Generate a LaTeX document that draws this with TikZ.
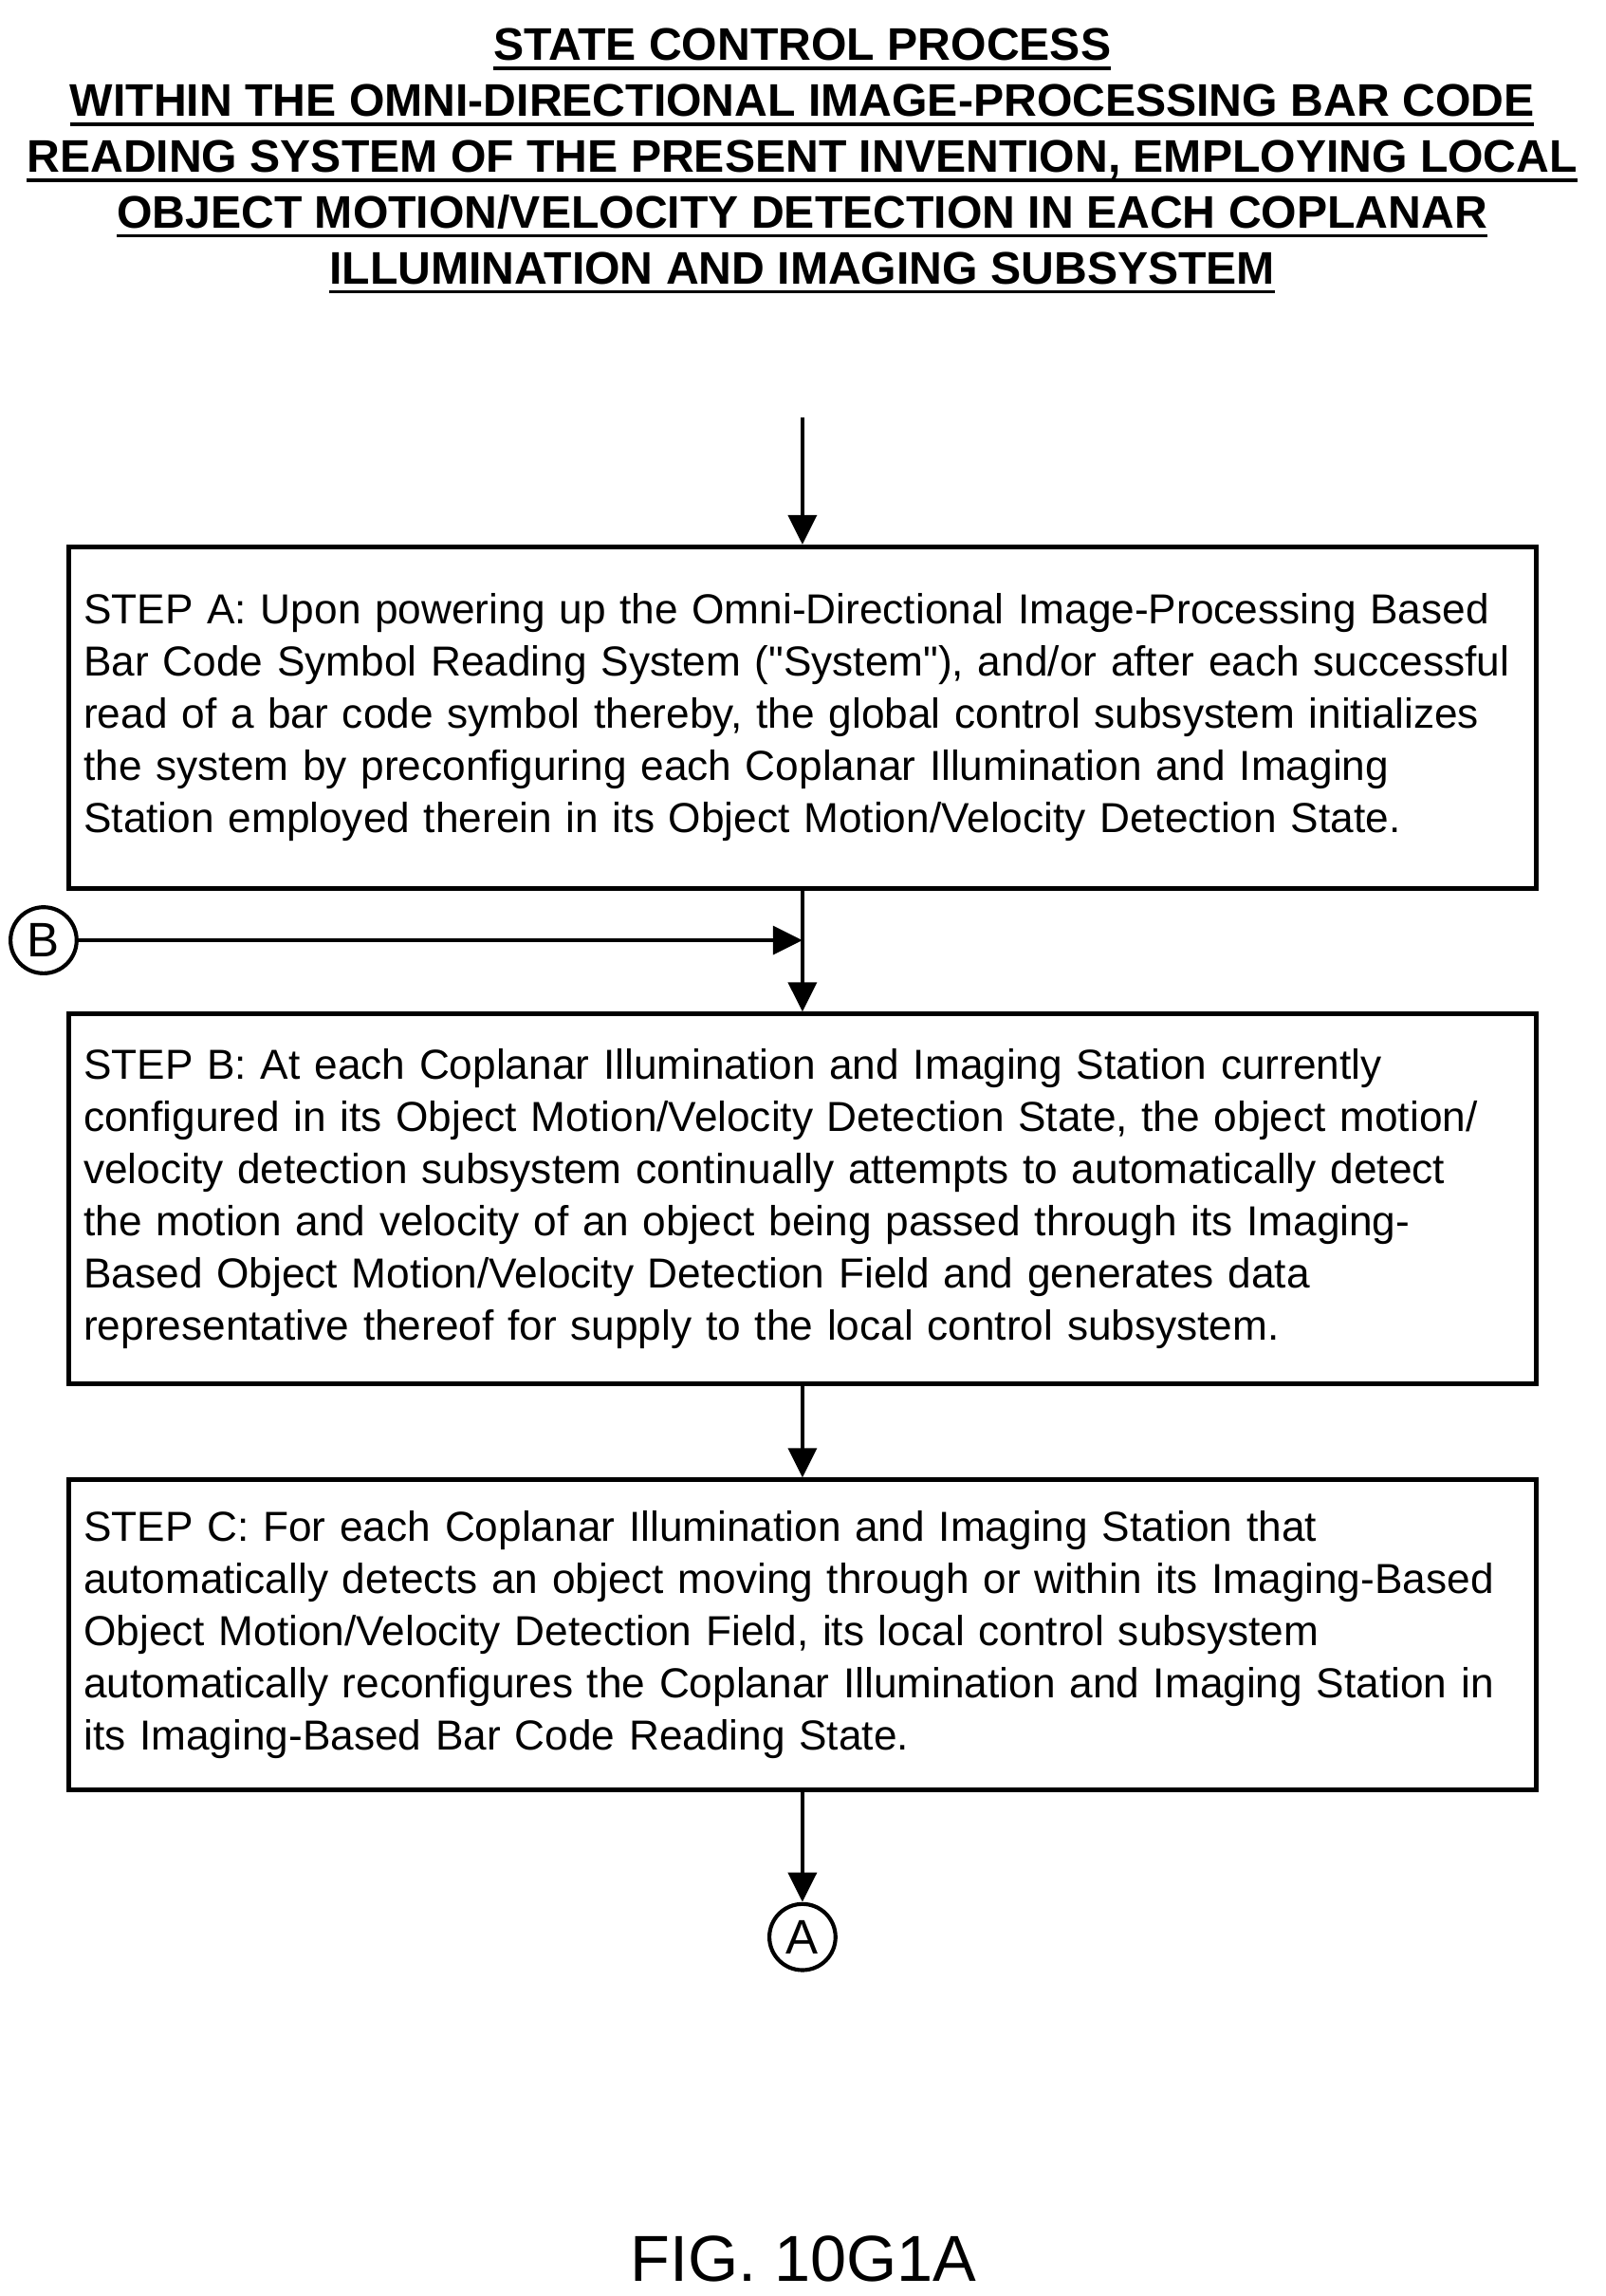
\documentclass[tikz,border=0pt]{standalone}
\usepackage{fontspec}
\setmainfont{Liberation Sans}[Ligatures=TeXOff]
\usetikzlibrary{arrows.meta,positioning}
% underlined heading line
\newsavebox{\hdbox}
\newcommand{\hdline}[1]{\sbox{\hdbox}{#1}\usebox{\hdbox}\llap{\rule[-2.4pt]{\wd\hdbox}{0.8pt}}}
\hyphenpenalty=10000
\exhyphenpenalty=10000

\begin{document}
\begin{tikzpicture}[>={Triangle[length=7.5pt,width=7.2pt]}, line width=1pt,
  stepbox/.style={draw, line width=1.1pt, anchor=north west, minimum width=13.098cm,
                  text width=12.83cm, inner xsep=0.135cm, align=left,
                  font=\fontsize{10.65}{13.24}\selectfont},
  conn/.style={draw, circle, line width=1pt, minimum size=0.59cm, inner sep=0pt,
               font=\fontsize{12.3}{14}\selectfont}]
\useasboundingbox (0,0) rectangle (14.334,-20.49);
% heading
\node[anchor=north, align=center, inner sep=0pt,
      font=\bfseries\fontsize{11.6}{14.2}\selectfont] (title) at (7.16,-0.237)
  {\hdline{STATE CONTROL PROCESS}\\
   \hdline{WITHIN THE OMNI-DIRECTIONAL IMAGE-PROCESSING BAR CODE}\\
   \hdline{READING SYSTEM OF THE PRESENT INVENTION, EMPLOYING LOCAL}\\
   \hdline{OBJECT MOTION/VELOCITY DETECTION IN EACH COPLANAR}\\
   \hdline{ILLUMINATION AND IMAGING SUBSYSTEM}};
% the three steps
\node[stepbox, minimum height=3.048cm] (stepA) at (0.593,-4.860)
  {STEP A: Upon powering up the Omni-Directional Image-Processing Based\\
   Bar Code Symbol Reading System ("System"), and/or after each successful\\
   read of a bar code symbol thereby, the global control subsystem initializes\\
   the system by preconfiguring each Coplanar Illumination and Imaging\\
   Station employed therein in its Object Motion/Velocity Detection State.};
\node[stepbox, minimum height=3.302cm, below=1.083cm of stepA] (stepB)
  {STEP B: At each Coplanar Illumination and Imaging Station currently\\
   configured in its Object Motion/Velocity Detection State, the object motion/\\
   velocity detection subsystem continually attempts to automatically detect\\
   the motion and velocity of an object being passed through its Imaging-\\
   Based Object Motion/Velocity Detection Field and generates data\\
   representative thereof for supply to the local control subsystem.};
\node[stepbox, minimum height=2.769cm, below=0.816cm of stepB] (stepC)
  {STEP C: For each Coplanar Illumination and Imaging Station that\\
   automatically detects an object moving through or within its Imaging-Based\\
   Object Motion/Velocity Detection Field, its local control subsystem\\
   automatically reconfigures the Coplanar Illumination and Imaging Station in\\
   its Imaging-Based Bar Code Reading State.};
% off-page connectors
\coordinate[above=1.135cm of stepA] (entry);
\node[conn, below=0.98cm of stepC] (conA) {A};
\node[conn] (conB) at (0.389,-8.391) {B};
% flow
\draw[->] (entry) -- (stepA);
\draw[->] (stepA) -- (stepB);
\draw[->] (conB) -- (conB -| stepA.south);
\draw[->] (stepB) -- (stepC);
\draw[->] (stepC) -- (conA);
% figure label
\node[inner sep=0pt, font=\fontsize{16.5}{19}\selectfont] (fig) at (7.171,-20.155) {FIG. 10G1A};
\end{tikzpicture}
\end{document}
